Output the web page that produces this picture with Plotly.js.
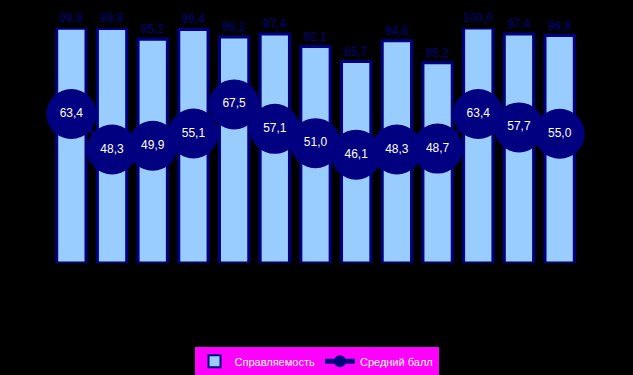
<!DOCTYPE html>
<html>
<head>
<meta charset="utf-8">
<script src="https://cdn.plot.ly/plotly-3.0.1.min.js"></script>
<style>html,body{margin:0;padding:0;background:#000;}</style>
</head>
<body>
<div id="chart" style="width:633px;height:375px;"></div>
<script>
const categories = ["1","2","3","4","5","6","7","8","9","10","11","12","13"];
const spravlyaemost = [99.9, 99.8, 95.2, 99.4, 96.2, 97.4, 92.1, 85.7, 94.6, 85.2, 100.0, 97.4, 96.8];
const sredniyBall = [63.4, 48.3, 49.9, 55.1, 67.5, 57.1, 51.0, 46.1, 48.3, 48.7, 63.4, 57.7, 55.0];
const seriesNames = ["Справляемость", "Средний балл"];

const fmt = v => v.toFixed(1).replace('.', ',');

const traces = [
  {
    type: 'bar',
    name: seriesNames[0],
    x: categories,
    y: spravlyaemost,
    text: spravlyaemost.map(fmt),
    textposition: 'outside',
    constraintext: 'none',
    cliponaxis: false,
    textfont: {family: 'Arial, Liberation Sans, sans-serif', size: 12, color: '#000080'},
    marker: {color: '#99CCFF', line: {color: '#000080', width: 3}},
    hoverinfo: 'none'
  },
  {
    type: 'scatter',
    mode: 'lines+markers+text',
    name: seriesNames[1],
    x: categories,
    y: sredniyBall,
    text: sredniyBall.map(fmt),
    textposition: 'middle center',
    cliponaxis: false,
    textfont: {family: 'Arial, Liberation Sans, sans-serif', size: 12, color: '#FFFFFF'},
    line: {color: '#000080', width: 3},
    marker: {color: '#000080', size: 50, symbol: 'circle'},
    hoverinfo: 'none'
  }
];

const layout = {
  width: 633,
  height: 375,
  paper_bgcolor: '#000000',
  plot_bgcolor: '#000000',
  margin: {l: 51, r: 53, t: 28, b: 112, autoexpand: false},
  bargap: 0.28,
  showlegend: true,
  xaxis: {
    type: 'category',
    range: [-0.5, 12.5],
    showticklabels: false,
    showgrid: false,
    zeroline: false,
    showline: false,
    ticks: ''
  },
  yaxis: {
    range: [0, 100],
    showticklabels: false,
    showgrid: true,
    tickvals: [100],
    gridcolor: '#808080',
    gridwidth: 1,
    zeroline: false,
    showline: false,
    ticks: ''
  },
  legend: {
    orientation: 'h',
    xref: 'container',
    yref: 'container',
    x: 0.5,
    xanchor: 'center',
    y: 0.078,
    yanchor: 'top',
    bgcolor: '#FF00FF',
    bordercolor: '#000000',
    borderwidth: 1,
    font: {family: 'Arial, Liberation Sans, sans-serif', size: 11, color: '#FFFFFF'},
    itemsizing: 'constant',
    itemwidth: 30,
    tracegroupgap: 0
  },
  font: {family: 'Arial, Liberation Sans, sans-serif'}
};

Plotly.newPlot('chart', traces, layout, {displayModeBar: false, staticPlot: true});
</script>
</body>
</html>
